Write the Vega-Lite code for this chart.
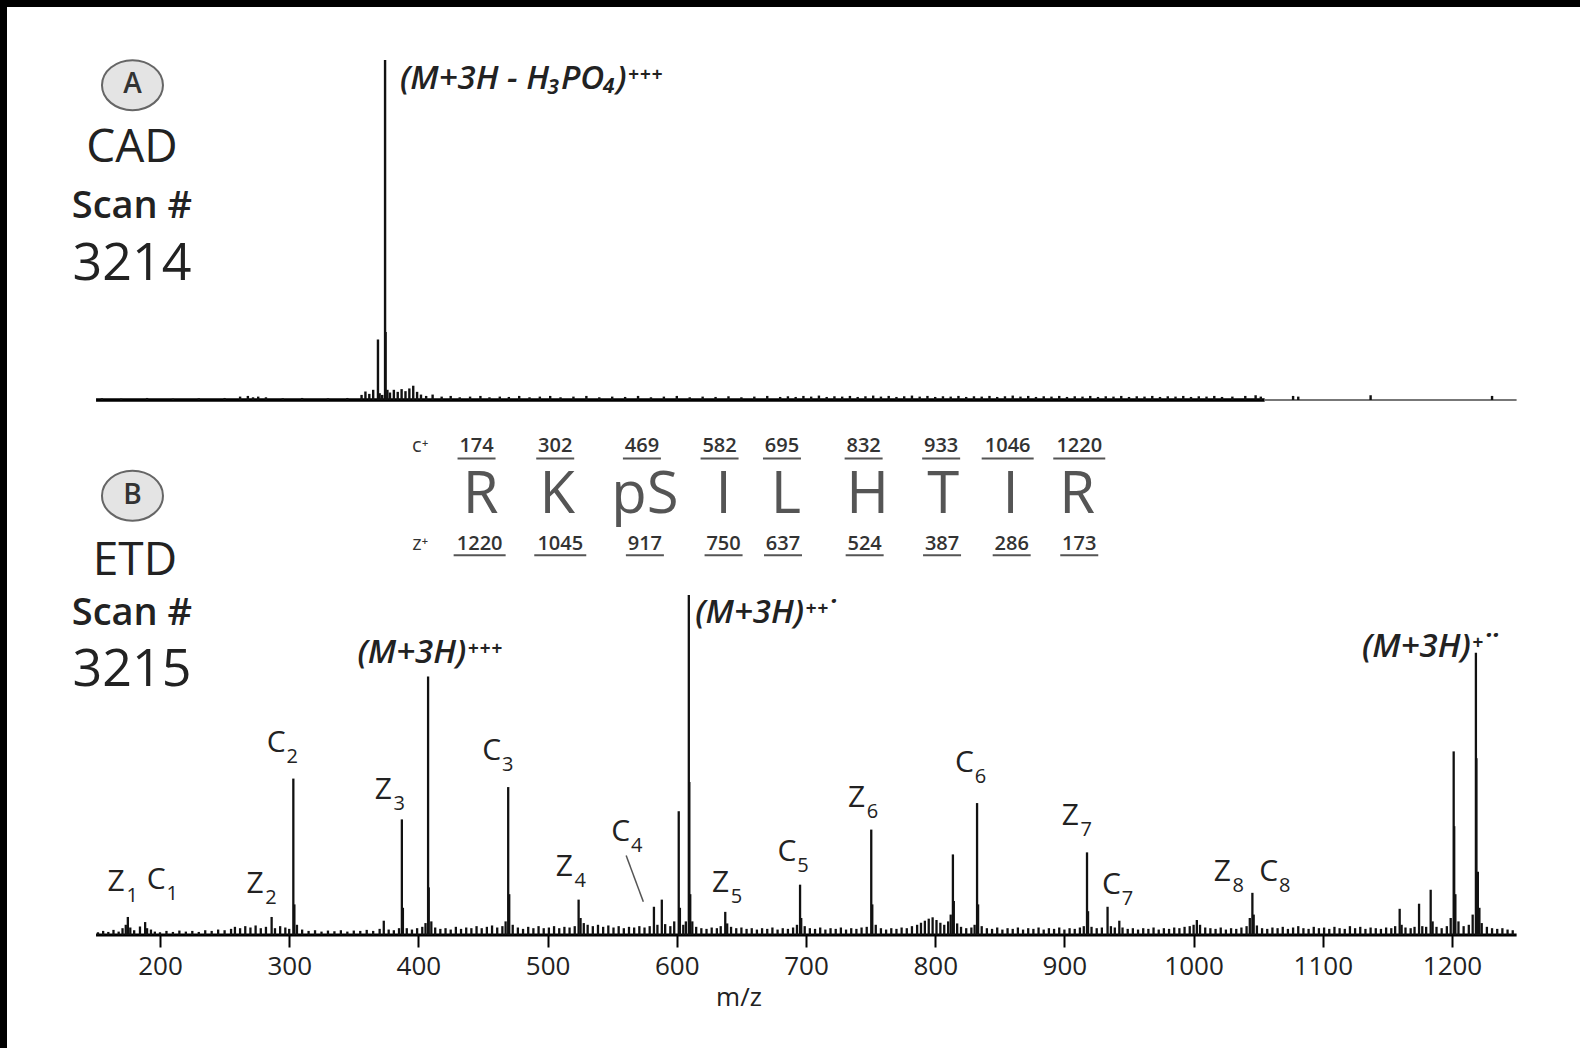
{
"$schema": "https://vega.github.io/schema/vega-lite/v6.json",
"width": 1580, "height": 1048, "padding": 0, "autosize": {"type": "none"},
"background": "#ffffff",
"config": {"view": {"stroke": "#000000", "strokeWidth": 14, "strokeDash": [1580, 2628, 1048]}, "font": "Open Sans", "numberFormat": "d",
  "axisX": {"domain": false, "grid": false, "ticks": true, "tickSize": 12, "tickWidth": 2, "tickColor": "#000000", "labelFontSize": 26, "labelColor": "#222222", "labelPadding": 6, "labelFlush": false, "labelOverlap": false, "labelFont": "Open Sans", "offset": -113}},
"datasets": {
"specA": [
{"mz":155,"i":0.5},{"mz":170,"i":0.4},{"mz":190,"i":0.6},{"mz":210,"i":0.4},{"mz":230,"i":0.5},{"mz":250,"i":0.6},{"mz":262,"i":1.0},{"mz":268,"i":1.2},{"mz":272,"i":0.8},{"mz":276,"i":1.0},{"mz":282,"i":0.8},{"mz":295,"i":0.5},{"mz":310,"i":0.6},{"mz":330,"i":0.5},{"mz":345,"i":0.6},{"mz":356,"i":1.5},{"mz":359,"i":2.5},{"mz":362,"i":1.8},{"mz":365,"i":3.0},{"mz":368.7,"i":17.8},{"mz":370,"i":2},{"mz":372,"i":1.5},{"mz":374.2,"i":100},{"mz":374.6,"i":20},{"mz":376,"i":3},{"mz":378,"i":2.2},{"mz":381,"i":3.0},{"mz":384,"i":2.4},{"mz":387,"i":3.2},{"mz":390,"i":2.6},{"mz":393,"i":3.4},{"mz":396,"i":4.2},{"mz":399,"i":2.4},{"mz":402,"i":1.6},{"mz":406,"i":1.2},{"mz":411,"i":1.6},{"mz":418,"i":1.0},{"mz":425,"i":1.2},{"mz":432,"i":0.8},{"mz":440,"i":1.0},{"mz":448,"i":1.2},{"mz":455,"i":0.8},{"mz":463,"i":1.0},{"mz":470,"i":0.9},{"mz":478,"i":1.2},{"mz":486,"i":0.8},{"mz":494,"i":1.0},{"mz":502,"i":1.2},{"mz":510,"i":0.8},{"mz":520,"i":1.0},{"mz":530,"i":1.2},{"mz":540,"i":0.8},{"mz":550,"i":1.0},{"mz":560,"i":0.9},{"mz":570,"i":1.2},{"mz":580,"i":0.8},{"mz":590,"i":1.0},{"mz":600,"i":1.2},{"mz":610,"i":0.8},{"mz":620,"i":1.0},{"mz":630,"i":0.9},{"mz":640,"i":1.1},{"mz":650,"i":0.8},{"mz":660,"i":1.0},{"mz":670,"i":1.2},{"mz":680,"i":0.9},{"mz":686,"i":1.1},{"mz":692,"i":0.9},{"mz":698,"i":1.2},{"mz":704,"i":1.0},{"mz":710,"i":1.3},{"mz":716,"i":0.9},{"mz":722,"i":1.1},{"mz":728,"i":1.0},{"mz":734,"i":1.2},{"mz":740,"i":0.9},{"mz":746,"i":1.1},{"mz":752,"i":1.3},{"mz":758,"i":1.0},{"mz":764,"i":1.2},{"mz":770,"i":0.9},{"mz":776,"i":1.1},{"mz":782,"i":1.3},{"mz":788,"i":1.0},{"mz":794,"i":1.2},{"mz":800,"i":0.9},{"mz":806,"i":1.1},{"mz":812,"i":1.0},{"mz":818,"i":1.2},{"mz":824,"i":0.9},{"mz":830,"i":1.1},{"mz":836,"i":1.0},{"mz":842,"i":1.2},{"mz":848,"i":0.9},{"mz":854,"i":1.1},{"mz":860,"i":1.3},{"mz":866,"i":1.0},{"mz":872,"i":1.2},{"mz":878,"i":0.9},{"mz":884,"i":1.1},{"mz":890,"i":1.0},{"mz":896,"i":1.2},{"mz":902,"i":0.9},{"mz":908,"i":1.1},{"mz":914,"i":1.0},{"mz":920,"i":1.2},{"mz":926,"i":0.9},{"mz":932,"i":1.1},{"mz":938,"i":1.0},{"mz":944,"i":1.2},{"mz":950,"i":0.9},{"mz":956,"i":1.1},{"mz":962,"i":1.0},{"mz":968,"i":1.2},{"mz":974,"i":0.9},{"mz":980,"i":1.1},{"mz":986,"i":1.0},{"mz":992,"i":1.2},{"mz":998,"i":0.9},{"mz":1004,"i":1.1},{"mz":1010,"i":1.0},{"mz":1016,"i":1.2},{"mz":1022,"i":0.9},{"mz":1030,"i":1.0},{"mz":1040,"i":1.2},{"mz":1048,"i":1.4},{"mz":1052,"i":1.0},{"mz":1077,"i":1.2},{"mz":1081,"i":1.0},{"mz":1137,"i":1.4},{"mz":1231,"i":1.2}
],
"specB": [
{"mz":152,"i":0.8},{"mz":156,"i":1.2},{"mz":160,"i":0.9},{"mz":164,"i":1.5},{"mz":168,"i":1.0},{"mz":171,"i":2.0},{"mz":173.5,"i":3.0},{"mz":175.1,"i":5.3},{"mz":177,"i":2.2},{"mz":180,"i":1.4},{"mz":184.5,"i":2.5},{"mz":188.5,"i":3.8},{"mz":190,"i":2.0},{"mz":193,"i":1.6},{"mz":196,"i":1.0},{"mz":200,"i":0.8},{"mz":205,"i":1.2},{"mz":210,"i":0.9},{"mz":215,"i":1.3},{"mz":220,"i":1.0},{"mz":225,"i":1.2},{"mz":230,"i":0.9},{"mz":235,"i":1.4},{"mz":240,"i":1.2},{"mz":245,"i":1.6},{"mz":250,"i":1.4},{"mz":255,"i":1.8},{"mz":258,"i":2.4},{"mz":262,"i":2.0},{"mz":266,"i":2.6},{"mz":270,"i":2.2},{"mz":274,"i":2.8},{"mz":278,"i":2.0},{"mz":282,"i":2.4},{"mz":286.4,"i":5.3},{"mz":289,"i":2.0},{"mz":293,"i":2.6},{"mz":297,"i":2.2},{"mz":300,"i":1.8},{"mz":303.2,"i":46},{"mz":304,"i":9},{"mz":306,"i":3.0},{"mz":310,"i":1.6},{"mz":315,"i":1.2},{"mz":320,"i":1.4},{"mz":325,"i":1.0},{"mz":330,"i":1.3},{"mz":335,"i":1.1},{"mz":340,"i":1.4},{"mz":345,"i":1.0},{"mz":350,"i":1.3},{"mz":355,"i":1.2},{"mz":360,"i":1.5},{"mz":365,"i":1.2},{"mz":370,"i":1.8},{"mz":373.2,"i":4.2},{"mz":377,"i":1.6},{"mz":381,"i":1.4},{"mz":385,"i":2.0},{"mz":387.2,"i":34},{"mz":388,"i":8},{"mz":391,"i":2.0},{"mz":395,"i":1.6},{"mz":399,"i":2.0},{"mz":403,"i":2.4},{"mz":405.5,"i":3.5},{"mz":407.5,"i":76},{"mz":408,"i":14},{"mz":410,"i":4},{"mz":413,"i":2.2},{"mz":417,"i":1.8},{"mz":421,"i":2.0},{"mz":425,"i":1.6},{"mz":429,"i":2.4},{"mz":433,"i":1.8},{"mz":437,"i":2.2},{"mz":441,"i":2.0},{"mz":445,"i":2.6},{"mz":449,"i":2.0},{"mz":453,"i":2.4},{"mz":457,"i":2.8},{"mz":461,"i":2.2},{"mz":465,"i":2.6},{"mz":467.5,"i":4},{"mz":469.5,"i":43.5},{"mz":470.3,"i":12},{"mz":473,"i":3},{"mz":477,"i":2.2},{"mz":481,"i":1.8},{"mz":485,"i":2.4},{"mz":489,"i":2.0},{"mz":493,"i":2.6},{"mz":497,"i":2.0},{"mz":501,"i":2.2},{"mz":505,"i":2.6},{"mz":509,"i":2.0},{"mz":513,"i":2.4},{"mz":517,"i":2.2},{"mz":521,"i":2.6},{"mz":524,"i":10.4},{"mz":525.5,"i":5},{"mz":528,"i":3.5},{"mz":531,"i":3.0},{"mz":535,"i":2.6},{"mz":539,"i":3.0},{"mz":543,"i":2.4},{"mz":547,"i":2.8},{"mz":551,"i":2.2},{"mz":555,"i":2.6},{"mz":559,"i":2.0},{"mz":563,"i":2.4},{"mz":567,"i":2.2},{"mz":571,"i":2.6},{"mz":575,"i":2.2},{"mz":579,"i":2.6},{"mz":582.3,"i":8.3},{"mz":585,"i":3.0},{"mz":588.4,"i":10.4},{"mz":591,"i":3.2},{"mz":595,"i":2.6},{"mz":598,"i":4},{"mz":601.5,"i":36.4},{"mz":602.4,"i":8},{"mz":605,"i":3},{"mz":607,"i":4},{"mz":609.3,"i":100},{"mz":609.7,"i":45},{"mz":610.4,"i":12},{"mz":612,"i":4},{"mz":615,"i":2.4},{"mz":619,"i":2.0},{"mz":623,"i":1.8},{"mz":627,"i":2.2},{"mz":631,"i":2.0},{"mz":634,"i":2.6},{"mz":637.5,"i":6.8},{"mz":639,"i":3.4},{"mz":642,"i":2.4},{"mz":646,"i":2.0},{"mz":650,"i":2.2},{"mz":654,"i":1.8},{"mz":658,"i":2.0},{"mz":662,"i":1.6},{"mz":666,"i":2.0},{"mz":670,"i":1.8},{"mz":674,"i":2.2},{"mz":678,"i":1.6},{"mz":682,"i":2.0},{"mz":686,"i":1.8},{"mz":690,"i":2.2},{"mz":693,"i":3},{"mz":695.4,"i":14.8},{"mz":696.3,"i":5},{"mz":699,"i":2.6},{"mz":703,"i":2.0},{"mz":707,"i":1.8},{"mz":711,"i":2.2},{"mz":715,"i":1.6},{"mz":719,"i":2.0},{"mz":723,"i":1.8},{"mz":727,"i":2.2},{"mz":731,"i":1.6},{"mz":735,"i":2.0},{"mz":739,"i":1.8},{"mz":743,"i":2.2},{"mz":747,"i":2.4},{"mz":750.5,"i":31},{"mz":751.3,"i":9},{"mz":754,"i":3},{"mz":758,"i":2.0},{"mz":762,"i":1.6},{"mz":766,"i":2.0},{"mz":770,"i":1.8},{"mz":774,"i":2.2},{"mz":778,"i":2.0},{"mz":782,"i":2.6},{"mz":786,"i":3.0},{"mz":789,"i":3.6},{"mz":792,"i":4.2},{"mz":795,"i":4.8},{"mz":798,"i":5.2},{"mz":801,"i":4.4},{"mz":804,"i":3.6},{"mz":807,"i":3.0},{"mz":810,"i":4.0},{"mz":812,"i":6},{"mz":813.7,"i":23.7},{"mz":814.4,"i":10},{"mz":817,"i":3.4},{"mz":820,"i":2.4},{"mz":824,"i":2.0},{"mz":828,"i":2.2},{"mz":830.5,"i":3},{"mz":832.4,"i":38.8},{"mz":833.2,"i":9},{"mz":836,"i":2.6},{"mz":840,"i":2.0},{"mz":844,"i":1.8},{"mz":848,"i":2.2},{"mz":852,"i":1.6},{"mz":856,"i":2.0},{"mz":860,"i":1.8},{"mz":864,"i":2.2},{"mz":868,"i":1.6},{"mz":872,"i":2.0},{"mz":876,"i":1.8},{"mz":880,"i":2.2},{"mz":884,"i":1.6},{"mz":888,"i":2.0},{"mz":892,"i":1.8},{"mz":896,"i":2.2},{"mz":900,"i":1.6},{"mz":904,"i":2.0},{"mz":908,"i":1.8},{"mz":912,"i":2.2},{"mz":915,"i":2.6},{"mz":917.5,"i":24.3},{"mz":918.3,"i":7},{"mz":921,"i":2.4},{"mz":925,"i":2.0},{"mz":929,"i":2.2},{"mz":933.4,"i":8.3},{"mz":936,"i":2.6},{"mz":939,"i":2.2},{"mz":942.5,"i":4.2},{"mz":945,"i":2.2},{"mz":949,"i":1.8},{"mz":953,"i":2.0},{"mz":957,"i":1.6},{"mz":961,"i":2.0},{"mz":965,"i":1.8},{"mz":969,"i":2.2},{"mz":973,"i":1.6},{"mz":977,"i":2.0},{"mz":981,"i":1.8},{"mz":985,"i":2.2},{"mz":989,"i":2.0},{"mz":993,"i":2.4},{"mz":997,"i":2.6},{"mz":1000,"i":3.0},{"mz":1002.5,"i":4.4},{"mz":1005,"i":3.0},{"mz":1009,"i":2.2},{"mz":1013,"i":2.0},{"mz":1017,"i":1.8},{"mz":1021,"i":2.2},{"mz":1025,"i":1.6},{"mz":1029,"i":2.0},{"mz":1033,"i":1.8},{"mz":1037,"i":2.2},{"mz":1041,"i":2.6},{"mz":1043.5,"i":5},{"mz":1045.5,"i":12.4},{"mz":1046.5,"i":6},{"mz":1049,"i":2.8},{"mz":1053,"i":2.0},{"mz":1057,"i":1.8},{"mz":1061,"i":2.2},{"mz":1065,"i":2.0},{"mz":1069,"i":2.4},{"mz":1073,"i":1.8},{"mz":1077,"i":2.2},{"mz":1081,"i":2.6},{"mz":1085,"i":2.0},{"mz":1089,"i":1.8},{"mz":1093,"i":2.4},{"mz":1097,"i":2.0},{"mz":1101,"i":2.2},{"mz":1105,"i":1.8},{"mz":1109,"i":2.4},{"mz":1113,"i":2.0},{"mz":1117,"i":1.8},{"mz":1121,"i":2.6},{"mz":1125,"i":2.0},{"mz":1129,"i":2.4},{"mz":1133,"i":1.8},{"mz":1137,"i":2.2},{"mz":1141,"i":2.0},{"mz":1145,"i":1.8},{"mz":1149,"i":2.2},{"mz":1153,"i":2.0},{"mz":1156,"i":2.6},{"mz":1159.5,"i":7.7},{"mz":1161,"i":3},{"mz":1164,"i":2.2},{"mz":1168,"i":2.0},{"mz":1171,"i":2.4},{"mz":1174.5,"i":9.2},{"mz":1177,"i":2.6},{"mz":1180,"i":2.4},{"mz":1183.5,"i":13.3},{"mz":1185,"i":4},{"mz":1188,"i":2.4},{"mz":1192,"i":2.0},{"mz":1196,"i":2.6},{"mz":1199,"i":5},{"mz":1201.3,"i":54},{"mz":1201.7,"i":32},{"mz":1202.6,"i":12},{"mz":1205,"i":4},{"mz":1209,"i":2.6},{"mz":1213,"i":3},{"mz":1216,"i":6},{"mz":1218.5,"i":83},{"mz":1218.9,"i":52},{"mz":1220,"i":18.6},{"mz":1221.2,"i":8},{"mz":1223,"i":3.5},{"mz":1227,"i":2.4},{"mz":1231,"i":2.0},{"mz":1235,"i":1.8},{"mz":1239,"i":2.0},{"mz":1243,"i":1.6},{"mz":1247,"i":1.4}
],
"frags": [
{"ion":"Z","n":"1","mz":166.1,"rel":15.6},{"ion":"C","n":"1","mz":197.1,"rel":16.3},{"ion":"Z","n":"2","mz":273.5,"rel":15.1},{"ion":"C","n":"2","mz":289.9,"rel":56.6},{"ion":"Z","n":"3","mz":372.8,"rel":42.6},{"ion":"C","n":"3","mz":456.8,"rel":54.2},{"ion":"Z","n":"4","mz":512.9,"rel":20.1},{"ion":"C","n":"4","mz":556.6,"rel":30.2},{"ion":"Z","n":"5","mz":633.8,"rel":15.4},{"ion":"C","n":"5","mz":685.3,"rel":24.3},{"ion":"Z","n":"6","mz":739.1,"rel":40.2},{"ion":"C","n":"6","mz":822.6,"rel":50.6},{"ion":"Z","n":"7","mz":904.5,"rel":34.9},{"ion":"C","n":"7","mz":936.5,"rel":14.8},{"ion":"Z","n":"8","mz":1022.2,"rel":18.6},{"ion":"C","n":"8","mz":1058.1,"rel":18.6}
],
"seqC": [{"mz":445.0,"t":"174"},{"mz":505.9,"t":"302"},{"mz":573.0,"t":"469"},{"mz":633.1,"t":"582"},{"mz":681.4,"t":"695"},{"mz":744.6,"t":"832"},{"mz":804.6,"t":"933"},{"mz":856.1,"t":"1046"},{"mz":911.5,"t":"1220"}],
"seqAA": [{"mz":448.2,"aa":"R"},{"mz":507.5,"aa":"K"},{"mz":575.3,"aa":"pS"},{"mz":636.2,"aa":"I"},{"mz":684.5,"aa":"L"},{"mz":747.7,"aa":"H"},{"mz":806.2,"aa":"T"},{"mz":858.4,"aa":"I"},{"mz":909.9,"aa":"R"}],
"seqZ": [{"mz":447.4,"t":"1220"},{"mz":509.8,"t":"1045"},{"mz":575.3,"t":"917"},{"mz":636.2,"t":"750"},{"mz":682.2,"t":"637"},{"mz":745.4,"t":"524"},{"mz":805.3,"t":"387"},{"mz":859.2,"t":"286"},{"mz":911.5,"t":"173"}]
},
"resolve": {"scale": {"x": "independent", "y": "independent"}, "axis": {"x": "independent", "y": "independent"}},
"layer": [
{"layer": [
 {"data": {"values": [{}]}, "mark": {"type": "rule", "color": "#000000", "strokeWidth": 3.5},
  "encoding": {"x": {"datum": 150.5, "type": "quantitative", "scale": {"domain": [76.16, 1299.07], "nice": false, "zero": false}, "axis": null}, "x2": {"datum": 1055}, "y": {"datum": 0, "type": "quantitative", "scale": {"domain": [-190.59, 117.65], "nice": false, "zero": false}, "axis": null}}},
 {"data": {"values": [{}]}, "mark": {"type": "rule", "color": "#777777", "strokeWidth": 2},
  "encoding": {"x": {"datum": 1055, "type": "quantitative", "scale": {"domain": [76.16, 1299.07], "nice": false, "zero": false}, "axis": null}, "x2": {"datum": 1250}, "y": {"datum": 0, "type": "quantitative", "scale": {"domain": [-190.59, 117.65], "nice": false, "zero": false}, "axis": null}}},
 {"data": {"name": "specA"}, "mark": {"type": "rule", "color": "#111111", "strokeWidth": 2.4},
  "encoding": {"x": {"field": "mz", "type": "quantitative", "scale": {"domain": [76.16, 1299.07], "nice": false, "zero": false}, "axis": null}, "y": {"field": "i", "type": "quantitative", "scale": {"domain": [-190.59, 117.65], "nice": false, "zero": false}, "axis": null}, "y2": {"datum": 0}}},
 {"data": {"values": [{}]}, "mark": {"type": "text", "align": "left", "baseline": "middle", "fontSize": 33, "fontStyle": "italic", "fontWeight": 600, "color": "#222222"},
  "encoding": {"text": {"value": "(M+3H - H₃PO₄)⁺⁺⁺"}, "x": {"datum": 385.8, "type": "quantitative", "scale": {"domain": [76.16, 1299.07], "nice": false, "zero": false}, "axis": null}, "y": {"datum": 94.5, "type": "quantitative", "scale": {"domain": [-190.59, 117.65], "nice": false, "zero": false}, "axis": null}}},
 {"data": {"values": [{}]}, "mark": {"type": "point", "shape": "M-1,0A1,0.82,0,1,1,1,0A1,0.82,0,1,1,-1,0Z", "size": 3721, "filled": true, "fill": "#e4e4e4", "stroke": "#666666", "strokeWidth": 2, "opacity": 1, "fillOpacity": 1, "strokeOpacity": 1},
  "encoding": {"x": {"datum": 178.7, "type": "quantitative", "scale": {"domain": [76.16, 1299.07], "nice": false, "zero": false}, "axis": null}, "y": {"datum": 92.6, "type": "quantitative", "scale": {"domain": [-190.59, 117.65], "nice": false, "zero": false}, "axis": null}}},
 {"data": {"values": [{}]}, "mark": {"type": "text", "fontSize": 28, "fontWeight": 600, "color": "#333333"},
  "encoding": {"text": {"value": "A"}, "x": {"datum": 178.7, "type": "quantitative", "scale": {"domain": [76.16, 1299.07], "nice": false, "zero": false}, "axis": null}, "y": {"datum": 92.6, "type": "quantitative", "scale": {"domain": [-190.59, 117.65], "nice": false, "zero": false}, "axis": null}}},
 {"data": {"values": [{}]}, "mark": {"type": "text", "fontSize": 46, "color": "#222222"},
  "encoding": {"text": {"value": "CAD"}, "x": {"datum": 178.3, "type": "quantitative", "scale": {"domain": [76.16, 1299.07], "nice": false, "zero": false}, "axis": null}, "y": {"datum": 74.1, "type": "quantitative", "scale": {"domain": [-190.59, 117.65], "nice": false, "zero": false}, "axis": null}}},
 {"data": {"values": [{}]}, "mark": {"type": "text", "fontSize": 38, "fontWeight": 600, "color": "#222222"},
  "encoding": {"text": {"value": "Scan #"}, "x": {"datum": 178.3, "type": "quantitative", "scale": {"domain": [76.16, 1299.07], "nice": false, "zero": false}, "axis": null}, "y": {"datum": 56.9, "type": "quantitative", "scale": {"domain": [-190.59, 117.65], "nice": false, "zero": false}, "axis": null}}},
 {"data": {"values": [{}]}, "mark": {"type": "text", "fontSize": 52, "color": "#222222"},
  "encoding": {"text": {"value": "3214"}, "x": {"datum": 178.3, "type": "quantitative", "scale": {"domain": [76.16, 1299.07], "nice": false, "zero": false}, "axis": null}, "y": {"datum": 40.0, "type": "quantitative", "scale": {"domain": [-190.59, 117.65], "nice": false, "zero": false}, "axis": null}}}
]},
{"layer": [
 {"data": {"values": [{}]}, "mark": {"type": "rule", "color": "#000000", "strokeWidth": 3},
  "encoding": {"x": {"datum": 150.5, "type": "quantitative", "scale": {"domain": [76.16, 1299.07], "nice": false, "zero": false}, "axis": {"values": [200, 300, 400, 500, 600, 700, 800, 900, 1000, 1100, 1200], "title": null}},
   "x2": {"datum": 1250}, "y": {"datum": 0, "type": "quantitative", "scale": {"domain": [-33.24, 275], "nice": false, "zero": false}, "axis": null}}},
 {"data": {"name": "specB"}, "mark": {"type": "rule", "color": "#111111", "strokeWidth": 2.3},
  "encoding": {"x": {"field": "mz", "type": "quantitative", "scale": {"domain": [76.16, 1299.07], "nice": false, "zero": false}, "axis": {"values": [200, 300, 400, 500, 600, 700, 800, 900, 1000, 1100, 1200], "title": null}},
   "y": {"field": "i", "type": "quantitative", "scale": {"domain": [-33.24, 275], "nice": false, "zero": false}, "axis": null}, "y2": {"datum": 0}}},
 {"data": {"name": "frags"}, "mark": {"type": "text", "fontSize": 30, "color": "#222222"},
  "encoding": {"text": {"field": "ion"}, "x": {"field": "mz", "type": "quantitative", "scale": {"domain": [76.16, 1299.07], "nice": false, "zero": false}, "axis": {"values": [200, 300, 400, 500, 600, 700, 800, 900, 1000, 1100, 1200], "title": null}}, "y": {"field": "rel", "type": "quantitative", "scale": {"domain": [-33.24, 275], "nice": false, "zero": false}, "axis": null}}},
 {"data": {"name": "frags"}, "mark": {"type": "text", "fontSize": 20, "color": "#222222", "dx": 16, "dy": 14},
  "encoding": {"text": {"field": "n"}, "x": {"field": "mz", "type": "quantitative", "scale": {"domain": [76.16, 1299.07], "nice": false, "zero": false}, "axis": {"values": [200, 300, 400, 500, 600, 700, 800, 900, 1000, 1100, 1200], "title": null}}, "y": {"field": "rel", "type": "quantitative", "scale": {"domain": [-33.24, 275], "nice": false, "zero": false}, "axis": null}}},
 {"data": {"values": [{}]}, "mark": {"type": "rule", "color": "#555555", "strokeWidth": 1.5},
  "encoding": {"x": {"datum": 560.8, "type": "quantitative", "scale": {"domain": [76.16, 1299.07], "nice": false, "zero": false}, "axis": {"values": [200, 300, 400, 500, 600, 700, 800, 900, 1000, 1100, 1200], "title": null}}, "x2": {"datum": 574.1}, "y": {"datum": 23.4, "type": "quantitative", "scale": {"domain": [-33.24, 275], "nice": false, "zero": false}, "axis": null}, "y2": {"datum": 9.8}}},
 {"data": {"values": [{}]}, "mark": {"type": "text", "align": "left", "baseline": "middle", "fontSize": 33, "fontStyle": "italic", "fontWeight": 600, "color": "#222222"},
  "encoding": {"text": {"value": "(M+3H)⁺⁺⁺"}, "x": {"datum": 352.9, "type": "quantitative", "scale": {"domain": [76.16, 1299.07], "nice": false, "zero": false}, "axis": {"values": [200, 300, 400, 500, 600, 700, 800, 900, 1000, 1100, 1200], "title": null}}, "y": {"datum": 82.9, "type": "quantitative", "scale": {"domain": [-33.24, 275], "nice": false, "zero": false}, "axis": null}}},
 {"data": {"values": [{}]}, "mark": {"type": "text", "align": "left", "baseline": "middle", "fontSize": 33, "fontStyle": "italic", "fontWeight": 600, "color": "#222222"},
  "encoding": {"text": {"value": "(M+3H)⁺⁺˙"}, "x": {"datum": 614.3, "type": "quantitative", "scale": {"domain": [76.16, 1299.07], "nice": false, "zero": false}, "axis": {"values": [200, 300, 400, 500, 600, 700, 800, 900, 1000, 1100, 1200], "title": null}}, "y": {"datum": 94.8, "type": "quantitative", "scale": {"domain": [-33.24, 275], "nice": false, "zero": false}, "axis": null}}},
 {"data": {"values": [{}]}, "mark": {"type": "text", "align": "right", "baseline": "middle", "fontSize": 33, "fontStyle": "italic", "fontWeight": 600, "color": "#222222"},
  "encoding": {"text": {"value": "(M+3H)⁺˙˙"}, "x": {"datum": 1234.4, "type": "quantitative", "scale": {"domain": [76.16, 1299.07], "nice": false, "zero": false}, "axis": {"values": [200, 300, 400, 500, 600, 700, 800, 900, 1000, 1100, 1200], "title": null}}, "y": {"datum": 84.7, "type": "quantitative", "scale": {"domain": [-33.24, 275], "nice": false, "zero": false}, "axis": null}}},
 {"data": {"name": "seqC"}, "mark": {"type": "text", "fontSize": 20, "fontWeight": 600, "color": "#333333"},
  "encoding": {"text": {"field": "t"}, "x": {"field": "mz", "type": "quantitative", "scale": {"domain": [76.16, 1299.07], "nice": false, "zero": false}, "axis": {"values": [200, 300, 400, 500, 600, 700, 800, 900, 1000, 1100, 1200], "title": null}}, "y": {"datum": 143.7, "type": "quantitative", "scale": {"domain": [-33.24, 275], "nice": false, "zero": false}, "axis": null}}},
 {"data": {"name": "seqZ"}, "mark": {"type": "text", "fontSize": 20, "fontWeight": 600, "color": "#333333"},
  "encoding": {"text": {"field": "t"}, "x": {"field": "mz", "type": "quantitative", "scale": {"domain": [76.16, 1299.07], "nice": false, "zero": false}, "axis": {"values": [200, 300, 400, 500, 600, 700, 800, 900, 1000, 1100, 1200], "title": null}}, "y": {"datum": 114.9, "type": "quantitative", "scale": {"domain": [-33.24, 275], "nice": false, "zero": false}, "axis": null}}},
 {"data": {"name": "seqAA"}, "mark": {"type": "text", "fontSize": 58, "color": "#555555"},
  "encoding": {"text": {"field": "aa"}, "x": {"field": "mz", "type": "quantitative", "scale": {"domain": [76.16, 1299.07], "nice": false, "zero": false}, "axis": {"values": [200, 300, 400, 500, 600, 700, 800, 900, 1000, 1100, 1200], "title": null}}, "y": {"datum": 129.2, "type": "quantitative", "scale": {"domain": [-33.24, 275], "nice": false, "zero": false}, "axis": null}}},
 {"data": {"name": "seqC"}, "transform": [{"filter": "length(datum.t) == 3"}], "mark": {"type": "rule", "color": "#555555", "strokeWidth": 2, "xOffset": -19, "x2Offset": 19, "yOffset": 12},
  "encoding": {"x": {"field": "mz", "type": "quantitative", "scale": {"domain": [76.16, 1299.07], "nice": false, "zero": false}, "axis": {"values": [200, 300, 400, 500, 600, 700, 800, 900, 1000, 1100, 1200], "title": null}}, "x2": {"field": "mz"}, "y": {"datum": 143.7, "type": "quantitative", "scale": {"domain": [-33.24, 275], "nice": false, "zero": false}, "axis": null}}},
 {"data": {"name": "seqC"}, "transform": [{"filter": "length(datum.t) == 4"}], "mark": {"type": "rule", "color": "#555555", "strokeWidth": 2, "xOffset": -26, "x2Offset": 26, "yOffset": 12},
  "encoding": {"x": {"field": "mz", "type": "quantitative", "scale": {"domain": [76.16, 1299.07], "nice": false, "zero": false}, "axis": {"values": [200, 300, 400, 500, 600, 700, 800, 900, 1000, 1100, 1200], "title": null}}, "x2": {"field": "mz"}, "y": {"datum": 143.7, "type": "quantitative", "scale": {"domain": [-33.24, 275], "nice": false, "zero": false}, "axis": null}}},
 {"data": {"name": "seqZ"}, "transform": [{"filter": "length(datum.t) == 3"}], "mark": {"type": "rule", "color": "#555555", "strokeWidth": 2, "xOffset": -19, "x2Offset": 19, "yOffset": 11},
  "encoding": {"x": {"field": "mz", "type": "quantitative", "scale": {"domain": [76.16, 1299.07], "nice": false, "zero": false}, "axis": {"values": [200, 300, 400, 500, 600, 700, 800, 900, 1000, 1100, 1200], "title": null}}, "x2": {"field": "mz"}, "y": {"datum": 114.9, "type": "quantitative", "scale": {"domain": [-33.24, 275], "nice": false, "zero": false}, "axis": null}}},
 {"data": {"name": "seqZ"}, "transform": [{"filter": "length(datum.t) == 4"}], "mark": {"type": "rule", "color": "#555555", "strokeWidth": 2, "xOffset": -26, "x2Offset": 26, "yOffset": 11},
  "encoding": {"x": {"field": "mz", "type": "quantitative", "scale": {"domain": [76.16, 1299.07], "nice": false, "zero": false}, "axis": {"values": [200, 300, 400, 500, 600, 700, 800, 900, 1000, 1100, 1200], "title": null}}, "x2": {"field": "mz"}, "y": {"datum": 114.9, "type": "quantitative", "scale": {"domain": [-33.24, 275], "nice": false, "zero": false}, "axis": null}}},
 {"data": {"values": [{}]}, "mark": {"type": "text", "fontSize": 20, "color": "#333333"},
  "encoding": {"text": {"value": "c⁺"}, "x": {"datum": 401.4, "type": "quantitative", "scale": {"domain": [76.16, 1299.07], "nice": false, "zero": false}, "axis": {"values": [200, 300, 400, 500, 600, 700, 800, 900, 1000, 1100, 1200], "title": null}}, "y": {"datum": 143.7, "type": "quantitative", "scale": {"domain": [-33.24, 275], "nice": false, "zero": false}, "axis": null}}},
 {"data": {"values": [{}]}, "mark": {"type": "text", "fontSize": 20, "color": "#333333"},
  "encoding": {"text": {"value": "z⁺"}, "x": {"datum": 401.4, "type": "quantitative", "scale": {"domain": [76.16, 1299.07], "nice": false, "zero": false}, "axis": {"values": [200, 300, 400, 500, 600, 700, 800, 900, 1000, 1100, 1200], "title": null}}, "y": {"datum": 114.9, "type": "quantitative", "scale": {"domain": [-33.24, 275], "nice": false, "zero": false}, "axis": null}}},
 {"data": {"values": [{}]}, "mark": {"type": "point", "shape": "M-1,0A1,0.82,0,1,1,1,0A1,0.82,0,1,1,-1,0Z", "size": 3721, "filled": true, "fill": "#e4e4e4", "stroke": "#666666", "strokeWidth": 2, "opacity": 1, "fillOpacity": 1, "strokeOpacity": 1},
  "encoding": {"x": {"datum": 178.7, "type": "quantitative", "scale": {"domain": [76.16, 1299.07], "nice": false, "zero": false}, "axis": {"values": [200, 300, 400, 500, 600, 700, 800, 900, 1000, 1100, 1200], "title": null}}, "y": {"datum": 129.2, "type": "quantitative", "scale": {"domain": [-33.24, 275], "nice": false, "zero": false}, "axis": null}}},
 {"data": {"values": [{}]}, "mark": {"type": "text", "fontSize": 28, "fontWeight": 600, "color": "#333333"},
  "encoding": {"text": {"value": "B"}, "x": {"datum": 178.7, "type": "quantitative", "scale": {"domain": [76.16, 1299.07], "nice": false, "zero": false}, "axis": {"values": [200, 300, 400, 500, 600, 700, 800, 900, 1000, 1100, 1200], "title": null}}, "y": {"datum": 129.2, "type": "quantitative", "scale": {"domain": [-33.24, 275], "nice": false, "zero": false}, "axis": null}}},
 {"data": {"values": [{}]}, "mark": {"type": "text", "fontSize": 46, "color": "#222222"},
  "encoding": {"text": {"value": "ETD"}, "x": {"datum": 180.6, "type": "quantitative", "scale": {"domain": [76.16, 1299.07], "nice": false, "zero": false}, "axis": {"values": [200, 300, 400, 500, 600, 700, 800, 900, 1000, 1100, 1200], "title": null}}, "y": {"datum": 109.9, "type": "quantitative", "scale": {"domain": [-33.24, 275], "nice": false, "zero": false}, "axis": null}}},
 {"data": {"values": [{}]}, "mark": {"type": "text", "fontSize": 38, "fontWeight": 600, "color": "#222222"},
  "encoding": {"text": {"value": "Scan #"}, "x": {"datum": 178.3, "type": "quantitative", "scale": {"domain": [76.16, 1299.07], "nice": false, "zero": false}, "axis": {"values": [200, 300, 400, 500, 600, 700, 800, 900, 1000, 1100, 1200], "title": null}}, "y": {"datum": 94.5, "type": "quantitative", "scale": {"domain": [-33.24, 275], "nice": false, "zero": false}, "axis": null}}},
 {"data": {"values": [{}]}, "mark": {"type": "text", "fontSize": 52, "color": "#222222"},
  "encoding": {"text": {"value": "3215"}, "x": {"datum": 178.3, "type": "quantitative", "scale": {"domain": [76.16, 1299.07], "nice": false, "zero": false}, "axis": {"values": [200, 300, 400, 500, 600, 700, 800, 900, 1000, 1100, 1200], "title": null}}, "y": {"datum": 77.9, "type": "quantitative", "scale": {"domain": [-33.24, 275], "nice": false, "zero": false}, "axis": null}}},
 {"data": {"values": [{}]}, "mark": {"type": "text", "fontSize": 26, "color": "#222222"},
  "encoding": {"text": {"value": "m/z"}, "x": {"datum": 648.1, "type": "quantitative", "scale": {"domain": [76.16, 1299.07], "nice": false, "zero": false}, "axis": {"values": [200, 300, 400, 500, 600, 700, 800, 900, 1000, 1100, 1200], "title": null}}, "y": {"datum": -18.5, "type": "quantitative", "scale": {"domain": [-33.24, 275], "nice": false, "zero": false}, "axis": null}}}
]}
]
}
